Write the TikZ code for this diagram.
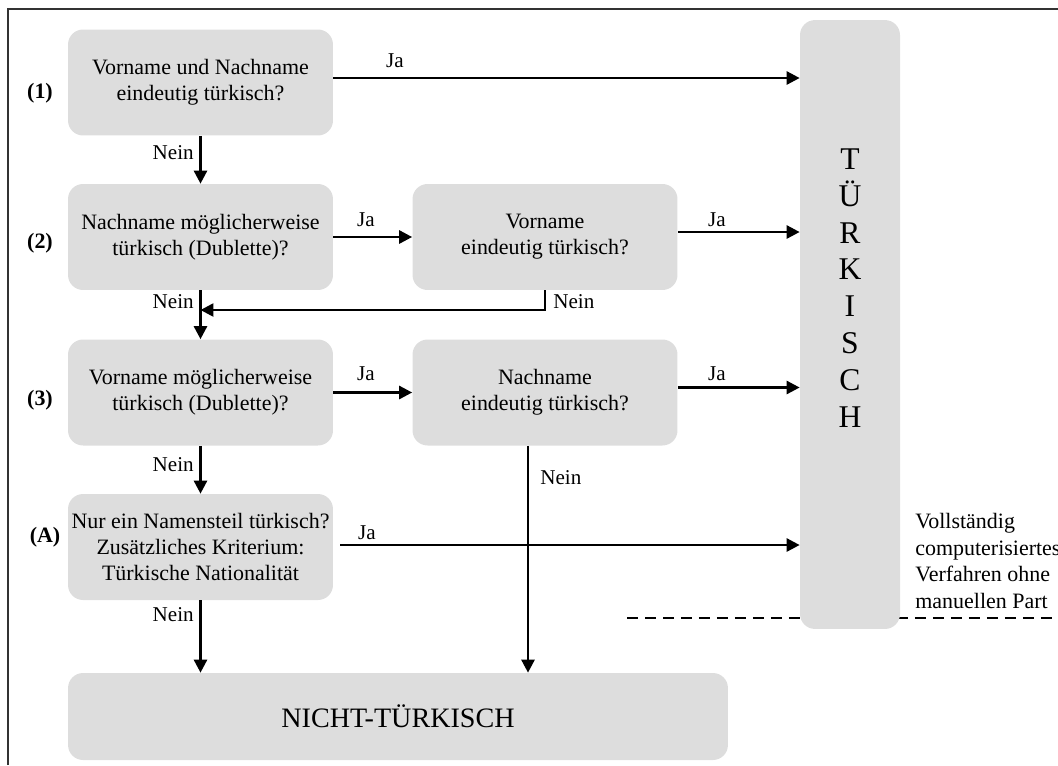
\documentclass[tikz,border=0pt]{standalone}
\usepackage{fontspec}
\setmainfont{Liberation Serif}
\usetikzlibrary{arrows.meta}

\definecolor{boxgrau}{RGB}{221,221,221}

\tikzset{
    frage/.style={fill=boxgrau, rounded corners=0.3cm, inner sep=0pt, align=center,
        minimum width=5.3cm, minimum height=2.12cm, font=\fontsize{12.5}{14.7}\selectfont},
    pfeil/.style={-{Triangle[length=0.26cm, width=0.26cm]}, line width=1.5pt},
    jn/.style={inner sep=0pt, font=\fontsize{12}{14}\selectfont},
    nr/.style={inner sep=0pt, font=\bfseries\fontsize{12.5}{14}\selectfont}
}

\begin{document}
\begin{tikzpicture}[x=0.02cm, y=-0.02cm]
    \useasboundingbox (0,0) rectangle (1058,765);
    \draw[line width=1.6pt, black!80] (8,765) -- (8,9) -- (1058,9);

    % Trennlinie liegt hinter der Spalte
    \draw[dash pattern=on 0.22cm off 0.14cm, line width=1.6pt] (627,618) -- (1058,618);

    \node[frage] (f1) at (200.5,82.5) {Vorname und Nachname\\eindeutig türkisch?};
    \node[frage] (f2) at (200.5,237) {Nachname möglicherweise\\türkisch (Dublette)?};
    \node[frage] (f2b) at (545,237) {Vorname\\eindeutig türkisch?};
    \node[frage] (f3) at (200.5,392.5) {Vorname möglicherweise\\türkisch (Dublette)?};
    \node[frage] (f3b) at (545,392.5) {Nachname\\eindeutig türkisch?};
    \node[frage] (fA) at (200.5,547) {Nur ein Namensteil türkisch?\\Zusätzliches Kriterium:\\Türkische Nationalität};

    \node[frage, minimum width=13.2cm, minimum height=1.74cm, font=\fontsize{16}{18}\selectfont]
        (nicht) at (398,716.5) {NICHT-TÜRKISCH};
    \node[frage, minimum width=2cm, minimum height=12.18cm] (tuerk) at (850,324.5) {};
    \node[align=center, font=\fontsize{18}{21}\selectfont] (tuerktext) at (850,288)
        {T\\Ü\\R\\K\\I\\S\\C\\H};

    \node[nr] (n1) at (40,93) {(1)};
    \node[nr] (n2) at (40,243) {(2)};
    \node[nr] (n3) at (40,400) {(3)};
    \node[nr] (nA) at (45,537) {(A)};

    % Ja
    \draw[pfeil] ([yshift=0.09cm]f1.east) -- ([yshift=0.09cm]f1.east -| tuerk.west);
    \draw[pfeil] (f2.east) -- (f2b.west);
    \draw[pfeil] ([yshift=0.1cm]f2b.east) -- ([yshift=0.1cm]f2b.east -| tuerk.west);
    \draw[pfeil] (f3.east) -- (f3b.west);
    \draw[pfeil] ([yshift=0.1cm]f3b.east) -- ([yshift=0.1cm]f3b.east -| tuerk.west);
    \draw[pfeil] ([xshift=0.14cm, yshift=0.04cm]fA.east) -- ([yshift=0.04cm]fA.east -| tuerk.west);

    \node[jn] (j1) at (395,61) {Ja};
    \node[jn] (j2) at (366,220) {Ja};
    \node[jn] (j2b) at (717,220) {Ja};
    \node[jn] (j3) at (366,374) {Ja};
    \node[jn] (j3b) at (717,374) {Ja};
    \node[jn] (jA) at (367,533) {Ja};

    % Nein
    \coordinate (knick) at (200.5,310);
    \draw[pfeil] (f1.south) -- (f2.north);
    \draw[pfeil] (f2.south) -- (f3.north);
    \draw[pfeil] (f2b.south) |- (knick);
    \draw[pfeil] (f3.south) -- (fA.north);
    \draw[pfeil] ([xshift=-0.34cm]f3b.south) -- ([xshift=-0.34cm]f3b.south |- nicht.north);
    \draw[pfeil] (fA.south) -- (fA.south |- nicht.north);

    \node[jn, anchor=east] (nein1) at (194,153) {Nein};
    \node[jn, anchor=east] (nein2) at (194,302) {Nein};
    \node[jn, anchor=west] (nein2b) at (553,302) {Nein};
    \node[jn, anchor=east] (nein3) at (194,465) {Nein};
    \node[jn, anchor=west] (nein3b) at (540,478) {Nein};
    \node[jn, anchor=east] (neinA) at (194,615) {Nein};

    \node[anchor=west, align=left, inner sep=0pt, font=\fontsize{12.5}{15.3}\selectfont]
        (hinweis) at (915,561) {Vollständig\\computerisiertes\\Verfahren ohne\\manuellen Part};
\end{tikzpicture}
\end{document}
